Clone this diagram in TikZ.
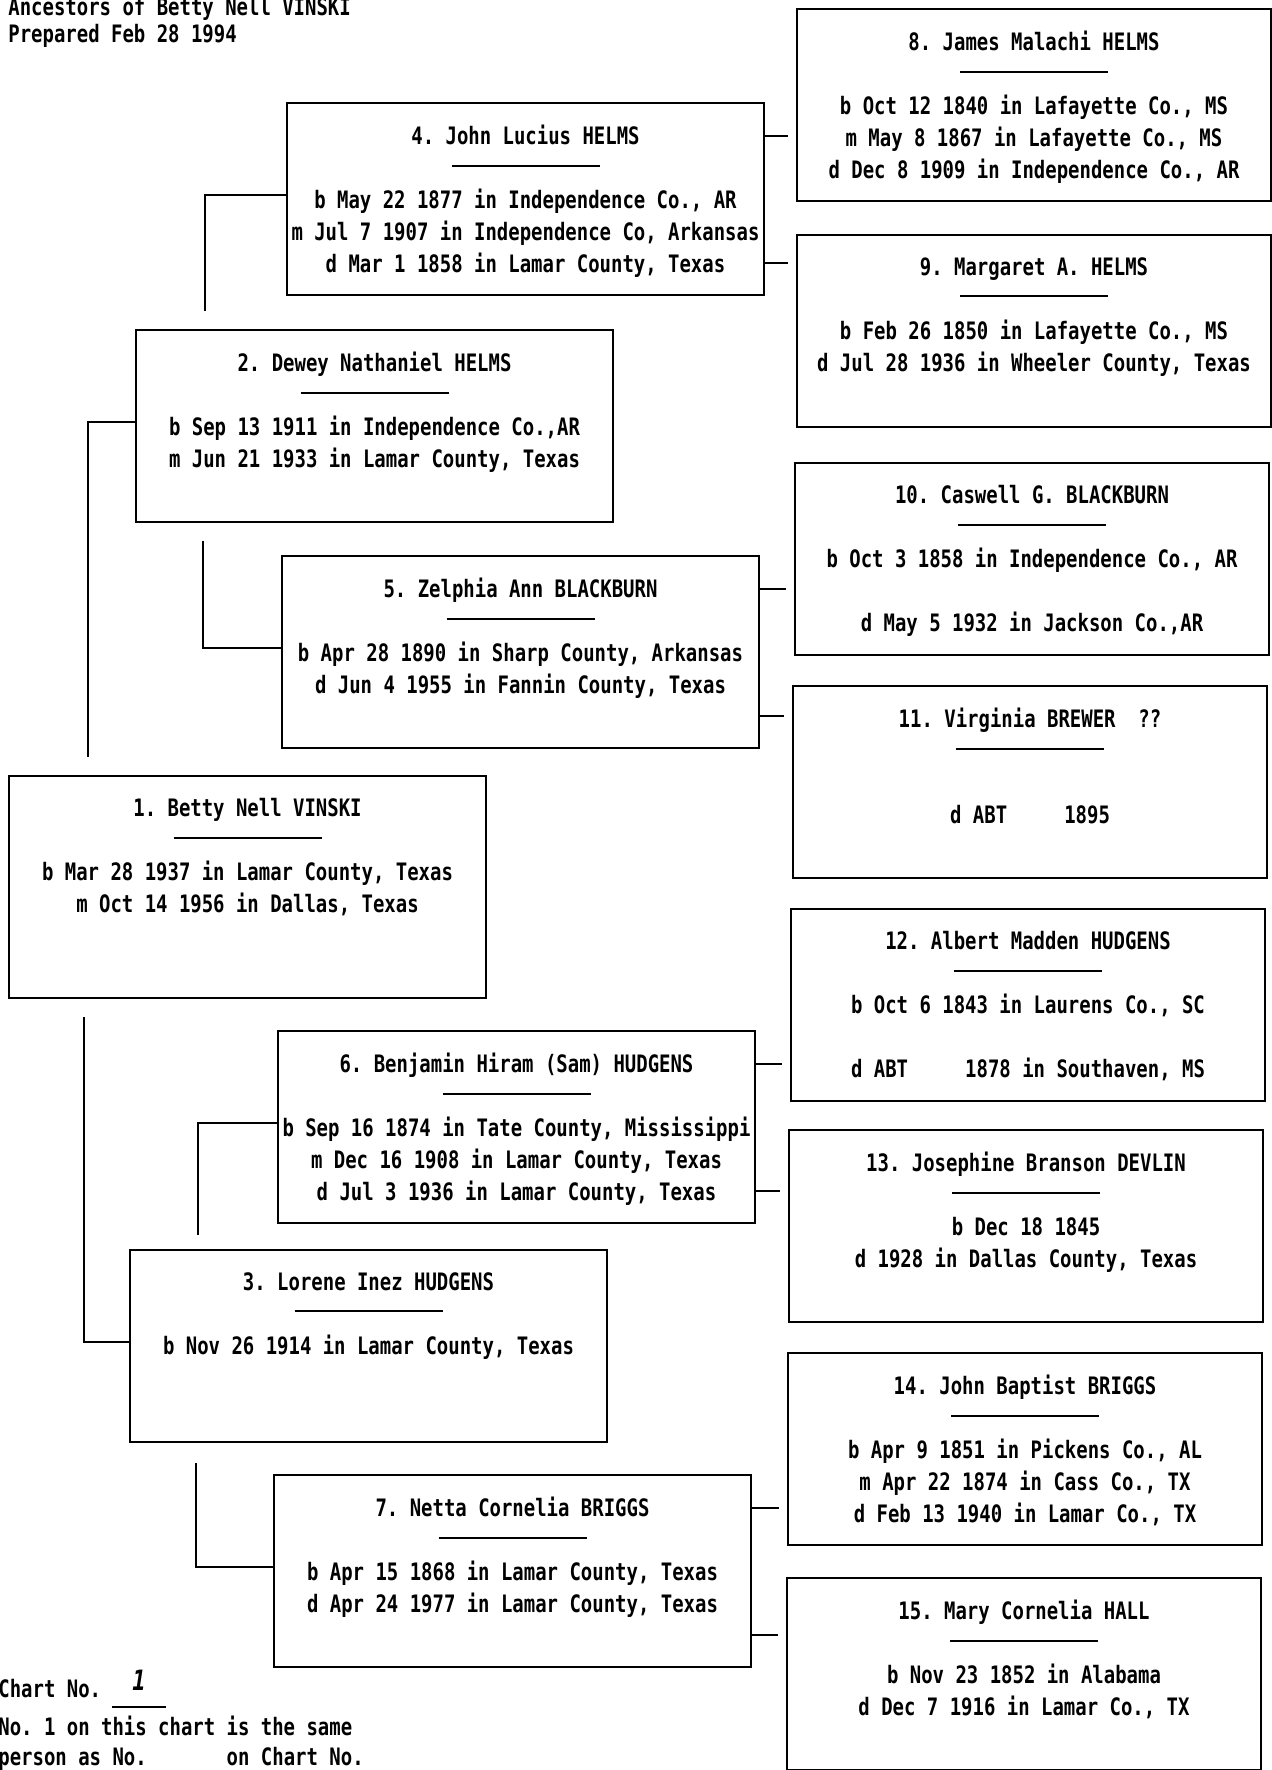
\documentclass[tikz,border=0pt]{standalone}
\usepackage{fontspec}
\newfontfamily\chartfont[FakeStretch=0.79]{DejaVu Sans Mono}
\frenchspacing

\newcommand{\namerule}{\rule[5pt]{74pt}{1pt}}

\tikzset{
  personbox/.style={draw, line width=1pt, anchor=north west, minimum width=238.5pt, minimum height=96pt, inner sep=0pt},
  farbox/.style={personbox, minimum width=237pt},
  card/.style={anchor=north, inner sep=0pt, align=center, font=\chartfont\bfseries\fontsize{12}{16}\selectfont\frenchspacing},
  plain/.style={anchor=base west, inner sep=0pt, font=\chartfont\bfseries\fontsize{12}{14}\selectfont\frenchspacing},
  link/.style={line width=0.9pt},
}

\begin{document}
\begin{tikzpicture}[x=0.5pt,y=-0.5pt]
\useasboundingbox (0,0) rectangle (1272,1770);

% header
\node[plain] (title) at (8,16) {Ancestors of Betty Nell VINSKI};
\node[plain] (prepared) at (8,43) {Prepared Feb 28 1994};

% boxes, generations 1-3
\node[personbox, minimum height=111pt] (p1) at (8,775) {};
\node[personbox] (p2) at (135,329) {};
\node[personbox] (p3) at (129,1249) {};
\node[personbox] (p4) at (286,102) {};
\node[personbox] (p5) at (281,555) {};
\node[personbox] (p6) at (277,1030) {};
\node[personbox] (p7) at (273,1474) {};
% generation 4
\node[farbox] (p8) at (796,8) {};
\node[farbox] (p9) at (796,234) {};
\node[farbox] (p10) at (794,462) {};
\node[farbox] (p11) at (792,685) {};
\node[farbox] (p12) at (790,908) {};
\node[farbox] (p13) at (788,1129) {};
\node[farbox] (p14) at (787,1352) {};
\node[farbox] (p15) at (786,1577) {};

% texts
\node[card] (t1) at ([yshift=-11.5pt]p1.north) {1. Betty Nell VINSKI\\ \namerule\\ b Mar 28 1937 in Lamar County, Texas\\ m Oct 14 1956 in Dallas, Texas};
\node[card] (t2) at ([yshift=-11.5pt]p2.north) {2. Dewey Nathaniel HELMS\\ \namerule\\ b Sep 13 1911 in Independence Co.,AR\\ m Jun 21 1933 in Lamar County, Texas};
\node[card] (t3) at ([yshift=-11.5pt]p3.north) {3. Lorene Inez HUDGENS\\ \namerule\\ b Nov 26 1914 in Lamar County, Texas};
\node[card] (t4) at ([yshift=-11.5pt]p4.north) {4. John Lucius HELMS\\ \namerule\\ b May 22 1877 in Independence Co., AR\\ m Jul 7 1907 in Independence Co, Arkansas\\ d Mar 1 1858 in Lamar County, Texas};
\node[card] (t5) at ([yshift=-11.5pt]p5.north) {5. Zelphia Ann BLACKBURN\\ \namerule\\ b Apr 28 1890 in Sharp County, Arkansas\\ d Jun 4 1955 in Fannin County, Texas};
\node[card] (t6) at ([yshift=-11.5pt]p6.north) {6. Benjamin Hiram (Sam) HUDGENS\\ \namerule\\ b Sep 16 1874 in Tate County, Mississippi\\ m Dec 16 1908 in Lamar County, Texas\\ d Jul 3 1936 in Lamar County, Texas};
\node[card] (t7) at ([yshift=-11.5pt]p7.north) {7. Netta Cornelia BRIGGS\\ \namerule\\ b Apr 15 1868 in Lamar County, Texas\\ d Apr 24 1977 in Lamar County, Texas};
\node[card] (t8) at ([yshift=-11.5pt]p8.north) {8. James Malachi HELMS\\ \namerule\\ b Oct 12 1840 in Lafayette Co., MS\\ m May 8 1867 in Lafayette Co., MS\\ d Dec 8 1909 in Independence Co., AR};
\node[card] (t9) at ([yshift=-11.5pt]p9.north) {9. Margaret A. HELMS\\ \namerule\\ b Feb 26 1850 in Lafayette Co., MS\\ d Jul 28 1936 in Wheeler County, Texas};
\node[card] (t10) at ([yshift=-11.5pt]p10.north) {10. Caswell G. BLACKBURN\\ \namerule\\ b Oct 3 1858 in Independence Co., AR\\ {}\\ d May 5 1932 in Jackson Co.,AR};
\node[card] (t11) at ([yshift=-11.5pt]p11.north) {11. Virginia BREWER~~??\\ \namerule\\ {}\\ d ABT~~~~~1895};
\node[card] (t12) at ([yshift=-11.5pt]p12.north) {12. Albert Madden HUDGENS\\ \namerule\\ b Oct 6 1843 in Laurens Co., SC\\ {}\\ d ABT~~~~~1878 in Southaven, MS};
\node[card] (t13) at ([yshift=-11.5pt]p13.north) {13. Josephine Branson DEVLIN\\ \namerule\\ b Dec 18 1845\\ d 1928 in Dallas County, Texas};
\node[card] (t14) at ([yshift=-11.5pt]p14.north) {14. John Baptist BRIGGS\\ \namerule\\ b Apr 9 1851 in Pickens Co., AL\\ m Apr 22 1874 in Cass Co., TX\\ d Feb 13 1940 in Lamar Co., TX};
\node[card] (t15) at ([yshift=-11.5pt]p15.north) {15. Mary Cornelia HALL\\ \namerule\\ b Nov 23 1852 in Alabama\\ d Dec 7 1916 in Lamar Co., TX};

% brackets to the parents
\coordinate (j2) at ([xshift=40pt,yshift=9pt]p1.north west);
\coordinate (j3) at ([xshift=38pt,yshift=-9pt]p1.south west);
\coordinate (j4) at ([xshift=35pt,yshift=9pt]p2.north west);
\coordinate (j5) at ([xshift=34pt,yshift=-9pt]p2.south west);
\coordinate (j6) at ([xshift=34.5pt,yshift=7pt]p3.north west);
\coordinate (j7) at ([xshift=33.5pt,yshift=-10pt]p3.south west);
\foreach \k in {2,...,7}
  \draw[link] (j\k) |- ([yshift=2pt]p\k.west);

% stubs towards generation 4
\foreach \k/\a/\b in {4/8/9,5/10/11,6/12/13,7/14/15}
{
  \coordinate (s\a) at ([yshift=-17pt]p\k.north east);
  \coordinate (s\b) at ([yshift=-80.5pt]p\k.north east);
  \draw[link, shorten >=4pt] (s\a) -- (s\a -| p\a.west);
  \draw[link, shorten >=4pt] (s\b) -- (s\b -| p\b.west);
}

% footer
\node[plain] (chartno) at (-2,1697) {Chart No.};
\draw[line width=1pt] (112,1707) -- (166,1707);
\node[plain, anchor=base, font=\chartfont\bfseries\itshape\fontsize{14}{14}\selectfont] (chartnum) at (139,1690) {1};
\node[plain] (same) at (-2,1735) {No. 1 on this chart is the same};
\node[plain] (person) at (-2,1765) {person as No.~~~~~~~on Chart No.};
\end{tikzpicture}
\end{document}
